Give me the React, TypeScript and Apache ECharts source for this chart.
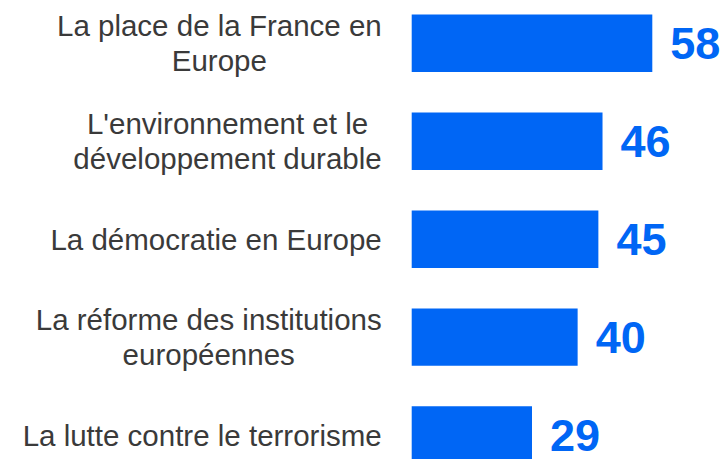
import React, { useEffect, useRef } from "react";
import * as echarts from "echarts";

const categories = [
  "La place de la France en\nEurope",
  "L'environnement et le\ndéveloppement durable",
  "La démocratie en Europe",
  "La réforme des institutions\neuropéennes",
  "La lutte contre le terrorisme",
];
const values = [58, 46, 45, 40, 29];

const BLUE = "#0066F5";

export default function App() {
  const ref = useRef<HTMLDivElement>(null);
  useEffect(() => {
    if (!ref.current) return;
    const chart = echarts.init(ref.current, undefined, { renderer: "svg" });
    chart.setOption({
      animation: false,
      grid: { left: 411.7, right: 67.4, top: 0.4, bottom: 0, containLabel: false },
      xAxis: {
        type: "value",
        min: 0,
        max: 60,
        show: false,
      },
      yAxis: {
        type: "category",
        inverse: true,
        data: categories,
        axisLine: { show: false },
        axisTick: { show: false },
        splitLine: { show: false },
        axisLabel: {
          margin: 30,
          formatter: (v: string) => v.split("\n").map((l) => `{c|${l}}`).join("\n"),
          rich: {
            c: {
              align: "center",
              fontFamily: "Liberation Sans, Arial, sans-serif",
              fontSize: 29.5,
              lineHeight: 35,
              color: "#3a3a3a",
            },
          },
        },
      },
      series: [
        {
          type: "bar",
          data: values,
          barCategoryGap: "41.3%",
          itemStyle: { color: BLUE },
          label: {
            show: true,
            position: "right",
            distance: 18,
            color: BLUE,
            fontFamily: "Liberation Sans, Arial, sans-serif",
            fontWeight: "bold",
            fontSize: 45,
            lineHeight: 34,
          },
        },
      ],
    });
    return () => chart.dispose();
  }, []);
  return (
    <div
      ref={ref}
      style={{ position: "fixed", left: 0, top: -6, width: 728, height: 490, background: "#fff" }}
    />
  );
}
